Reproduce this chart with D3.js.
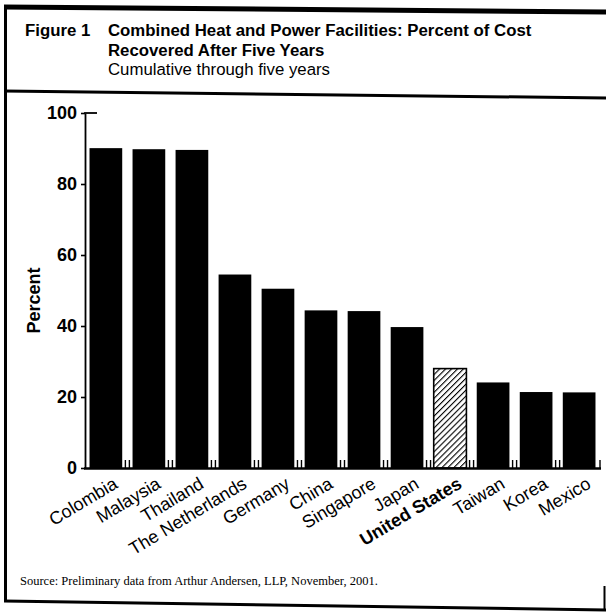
<!DOCTYPE html>
<html>
<head>
<meta charset="utf-8">
<script src="https://cdn.jsdelivr.net/npm/d3@7"></script>
<style>
  html, body { margin: 0; padding: 0; background: #fff; }
  svg { display: block; }
  text { fill: #000; }
</style>
</head>
<body>
<svg id="chart" width="606" height="613"></svg>
<script>
// Percent of cost recovered after five years, by country
const countries = ["Colombia", "Malaysia", "Thailand", "The Netherlands", "Germany", "China",
                   "Singapore", "Japan", "United States", "Taiwan", "Korea", "Mexico"];
const percentRecovered = [90.1, 89.8, 89.6, 54.5, 50.5, 44.4, 44.2, 39.7, 28.0, 24.1, 21.4, 21.3];
const highlighted = ["United States"];
const yTicks = [0, 20, 40, 60, 80, 100];

const titleLines = ["Combined Heat and Power Facilities: Percent of Cost", "Recovered After Five Years"];
const subtitle = "Cumulative through five years";
const figureLabel = "Figure 1";
const yLabel = "Percent";
const sourceNote = "Source: Preliminary data from Arthur Andersen, LLP, November, 2001.";

const SANS = "'Liberation Sans', Arial, Helvetica, sans-serif";
const SERIF = "'Liberation Serif', 'Times New Roman', serif";

const svg = d3.select("#chart");

// hatch pattern for the highlighted bar
const defs = svg.append("defs");
const pat = defs.append("pattern")
  .attr("id", "hatch")
  .attr("patternUnits", "userSpaceOnUse")
  .attr("width", 4.2).attr("height", 4.2)
  .attr("patternTransform", "rotate(45)");
pat.append("rect").attr("width", 4.2).attr("height", 4.2).attr("fill", "#fff");
pat.append("line").attr("x1", 0).attr("y1", 0).attr("x2", 0).attr("y2", 4.2)
  .attr("stroke", "#000").attr("stroke-width", 2.2);

// frame around the figure
const frame = svg.append("g").attr("stroke", "#000").attr("fill", "none");
frame.append("line").attr("x1", 4).attr("y1", 7).attr("x2", 606).attr("y2", 12).attr("stroke-width", 5);
frame.append("line").attr("x1", 4).attr("y1", 91).attr("x2", 606).attr("y2", 98).attr("stroke-width", 3);
frame.append("line").attr("x1", 4).attr("y1", 601).attr("x2", 606).attr("y2", 610).attr("stroke-width", 3);
frame.append("line").attr("x1", 5.5).attr("y1", 5).attr("x2", 5.5).attr("y2", 602).attr("stroke-width", 3);
frame.append("line").attr("x1", 604.5).attr("y1", 586).attr("x2", 604.5).attr("y2", 611).attr("stroke-width", 2);

// title block
const title = svg.append("g").style("font-family", SANS).style("font-size", "16.8px");
title.append("text").attr("x", 25).attr("y", 36)
  .style("font-weight", "bold").text(figureLabel);
titleLines.forEach((t, i) => {
  title.append("text").attr("x", 108).attr("y", 36 + i * 20)
    .style("font-weight", "bold").text(t);
});
title.append("text").attr("x", 108).attr("y", 75).text(subtitle);

// scales
const x = d3.scaleBand()
  .domain(countries)
  .range([85, 600])
  .paddingInner(0.24)
  .paddingOuter(0.105);

const y = d3.scaleLinear().domain([0, 100]).range([468, 113]);

// bars
svg.append("g").selectAll("rect")
  .data(countries)
  .join("rect")
  .attr("x", d => x(d))
  .attr("width", x.bandwidth())
  .attr("y", (d, i) => y(percentRecovered[i]))
  .attr("height", (d, i) => y(0) - y(percentRecovered[i]))
  .attr("fill", d => highlighted.includes(d) ? "url(#hatch)" : "#000")
  .attr("stroke", "#000")
  .attr("stroke-width", d => highlighted.includes(d) ? 1.6 : 0);

// y axis
const yAxis = svg.append("g")
  .attr("transform", `translate(85,0)`)
  .call(d3.axisLeft(y).tickValues(yTicks).tickSize(4).tickPadding(4).tickSizeOuter(0));
yAxis.select(".domain").attr("stroke-width", 1.8);
yAxis.selectAll(".tick line").attr("stroke-width", 1.6);
yAxis.selectAll(".tick text")
  .style("font-family", SANS)
  .style("font-size", "18px").style("font-weight", "bold").attr("fill", "#000");
// cap at the top of the axis
yAxis.append("line").attr("x1", -0.9).attr("x2", 12)
  .attr("y1", y(100)).attr("y2", y(100)).attr("stroke", "#000").attr("stroke-width", 1.8);

svg.append("text")
  .attr("transform", `translate(40,${(y(0) + y(100)) / 2 + 10}) rotate(-90)`)
  .attr("text-anchor", "middle")
  .style("font-family", SANS).style("font-size", "18px").style("font-weight", "bold")
  .text(yLabel);

// x axis baseline with small upward ticks between the bars
const step = x.step();
const gap = step * x.paddingInner();
const boundaries = countries.slice(1).map(c => x(c) - gap / 2).concat([x.range()[1]]);
svg.append("line")
  .attr("x1", 84).attr("x2", x.range()[1] + 1)
  .attr("y1", y(0) + 0.5).attr("y2", y(0) + 0.5)
  .attr("stroke", "#000").attr("stroke-width", 2.6);
const ticks = svg.append("g").attr("stroke", "#000").attr("stroke-width", 1.4);
boundaries.forEach((bx, i) => {
  const last = i === boundaries.length - 1;
  [-2, 2].forEach(off => {
    if (last && off > 0) return;
    ticks.append("line")
      .attr("x1", bx + (last ? 0 : off)).attr("x2", bx + (last ? 0 : off))
      .attr("y1", y(0)).attr("y2", y(0) - 8);
  });
});

// category labels
svg.append("g").selectAll("text")
  .data(countries)
  .join("text")
  .attr("transform", d => `translate(${x(d) + x.bandwidth() / 2 + 13},487) rotate(-31)`)
  .attr("text-anchor", "end")
  .style("font-family", SANS)
  .style("font-size", "18px")
  .style("font-weight", d => highlighted.includes(d) ? "bold" : "normal")
  .text(d => d);

// source note
svg.append("text").attr("x", 20).attr("y", 585)
  .style("font-family", SERIF)
  .style("font-size", "12.5px")
  .text(sourceNote);
</script>
</body>
</html>
